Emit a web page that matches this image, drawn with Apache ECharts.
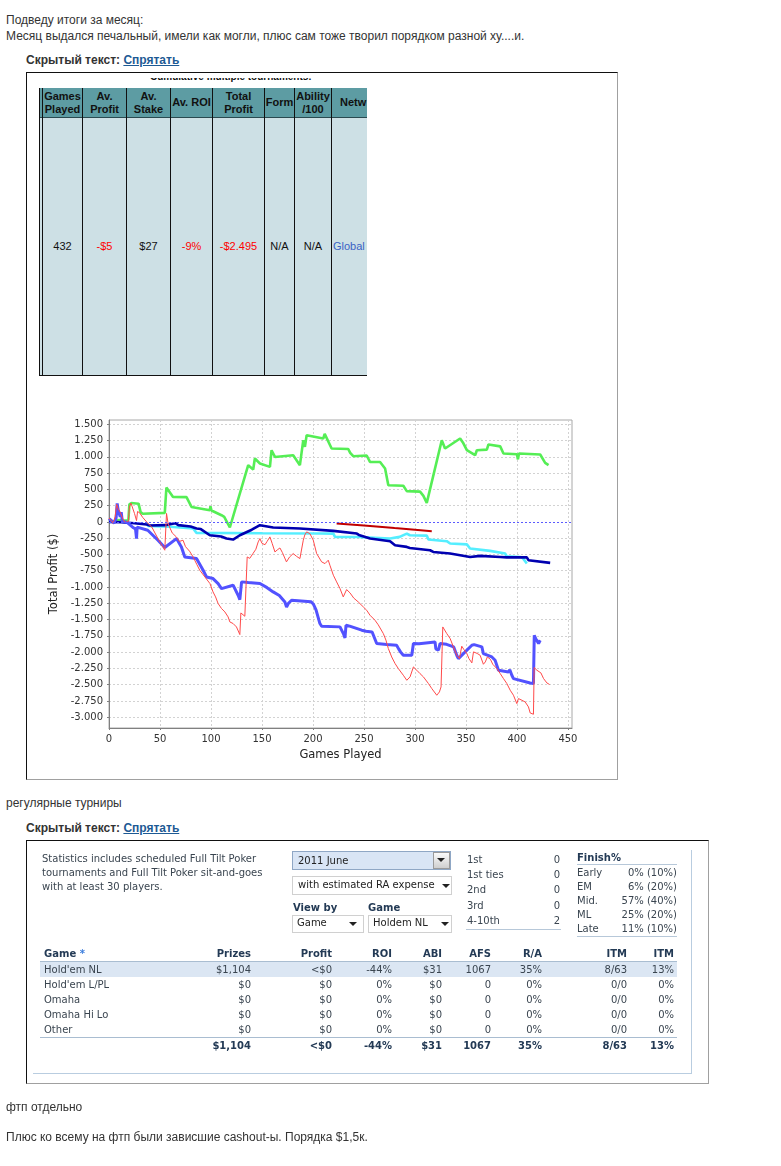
<!DOCTYPE html>
<html><head><meta charset="utf-8">
<script src="https://cdn.jsdelivr.net/npm/echarts@6.0.0/dist/echarts.min.js"></script>
<style>
html,body{margin:0;padding:0;background:#fff;}
body{width:781px;height:1166px;position:relative;overflow:hidden;}
.a{position:absolute;white-space:nowrap;}
.p{font:12px "Liberation Sans",Arial,sans-serif;color:#333;line-height:16px;}
.t{font:bold 12px "Liberation Sans",Arial,sans-serif;color:#333;line-height:16px;}
.t u{color:#1d5a94;}
.box{position:absolute;border-style:solid;border-width:1px;border-color:#111 #a0a0a0 #a0a0a0 #111;background:#fff;}
.oh{font:bold 11px "Liberation Sans",Arial,sans-serif;color:#111;line-height:13px;text-align:center;}
.ov{font:11px "Liberation Sans",Arial,sans-serif;line-height:13px;text-align:center;}
.w{font:10px "DejaVu Sans",Verdana,sans-serif;color:#3a4550;line-height:12px;}
.wb{font:bold 10px "DejaVu Sans",Verdana,sans-serif;color:#233a55;line-height:12px;}
.arr{position:absolute;width:0;height:0;border-left:4px solid transparent;border-right:4px solid transparent;border-top:4px solid #222;}
</style></head><body>
<div class="a p" style="left:6px;top:12px">Подведу итоги за месяц:</div>
<div class="a p" style="left:6px;top:28px">Месяц выдался печальный, имели как могли, плюс сам тоже творил порядком разной ху....и.</div>
<div class="a t" style="left:26px;top:52px">Скрытый текст: <u>Спрятать</u></div>
<div class="box" style="left:26px;top:72px;width:590px;height:706px"></div>

<div class="a" style="left:150px;top:78px;width:170px;height:4px;overflow:hidden">
  <div class="a oh" style="left:0;top:-8px;font-size:10px">Cumulative multiple tournaments:</div>
</div>
<div id="otab" class="a" style="left:39px;top:88px;width:328px;height:289px;overflow:hidden"></div>

<div id="chart" class="a" style="left:30px;top:395px;width:584px;height:380px"></div>

<div class="a p" style="left:6px;top:795px">регулярные турниры</div>
<div class="a t" style="left:26px;top:820px">Скрытый текст: <u>Спрятать</u></div>
<div class="box" style="left:26px;top:840px;width:681px;height:242px"></div>
<div id="wid" class="a" style="left:0;top:0;width:781px;height:1166px"></div>

<div class="a p" style="left:6px;top:1099px">фтп отдельно</div>
<div class="a p" style="left:6px;top:1129px">Плюс ко всему на фтп были зависшие cashout-ы. Порядка $1,5к.</div>

<script>
// ---------- summary table (top) ----------
const sumHeaders = [["",""],["Games","Played"],["Av.","Profit"],["Av.","Stake"],["Av. ROI"],["Total","Profit"],["Form"],["Ability","/100"],["Netw"]];
const sumValues = ["", "432", "-$5", "$27", "-9%", "-$2.495", "N/A", "N/A", "Global"];
const sumColors = ["#000", "#111", "#f00", "#111", "#f00", "#f00", "#111", "#111", "#3a63c4"];

// ---------- chart data ----------
const xTicks = [0, 50, 100, 150, 200, 250, 300, 350, 400, 450];
const yTicks = [-3000, -2750, -2500, -2250, -2000, -1750, -1500, -1250, -1000, -750, -500, -250, 0, 250, 500, 750, 1000, 1250, 1500];

const greenSeries = [[0,0],[5,10],[10,30],[14,20],[19,25],[20,270],[22,290],[29,280],[31,150],[33,125],[54.7,138],[56.3,528],[58,500],[62.8,384],[76,381],[80.9,230],[98.9,180],[99.5,241],[100.5,175],[110.3,103],[113,77],[118.5,-86],[136.5,871],[141.4,805],[143,974],[148,897],[157.8,845],[159.4,1101],[162.7,998],[180.6,1024],[187.2,871],[190.5,1255],[192.1,1152],[193.8,1332],[210.1,1281],[211.5,1352],[213,1330],[218.3,1127],[234.6,1120],[236.5,1060],[239.5,1009],[252.7,1020],[255.9,922],[265.8,920],[270.7,820],[273.9,564],[288.6,555],[292,472],[305,465],[308.3,400],[311.6,292],[326.3,1255],[329.5,1127],[344.3,1281],[347,1220],[350.9,1101],[359,1024],[360.7,1101],[370.5,1110],[372.1,1189],[383.6,1160],[386.8,1050],[400,1040],[401,960],[402,1050],[422.8,1035],[427.7,906],[431,871]];

const redSeries = [[0,60],[2,20],[4,-20],[6,80],[7.5,270],[9,200],[11,150],[12,170],[14,30],[16,-10],[19,10],[20,230],[21.5,290],[23,260],[25,130],[27,20],[28,160],[30,140],[33,70],[38,-20],[42,-80],[48,-256],[54.7,-435],[56.4,130],[58,-30],[62,-170],[66,-230],[69,-300],[72.6,-281],[75,-380],[79,-450],[82.5,-538],[86,-650],[89,-742],[94,-845],[99,-947],[102,-1075],[104.5,-1152],[107,-1254],[110.3,-1330],[113.6,-1382],[116.8,-1459],[118.5,-1536],[121.7,-1561],[125,-1613],[128.3,-1730],[129.3,-1398],[133.2,-1449],[134.2,-1469],[135.5,-538],[138,-560],[141,-490],[144,-420],[146.3,-307],[148,-256],[150,-330],[153,-350],[155,-300],[157.8,-230],[160,-330],[162.7,-461],[165,-430],[167.6,-400],[170,-470],[174,-614],[177,-540],[180.6,-486],[184,-530],[187.2,-563],[190.5,-281],[192,-200],[193.8,-153],[197,-180],[200.3,-281],[203.6,-486],[208.5,-614],[211.8,-640],[215,-588],[216.6,-665],[220,-819],[223.2,-921],[226.5,-1024],[229.7,-1152],[233,-1039],[236.3,-1090],[240,-1170],[244.4,-1229],[249.4,-1306],[252.7,-1357],[255.9,-1433],[260.8,-1510],[264,-1580],[269,-1715],[271.6,-1817],[273.9,-1945],[277.2,-2074],[280.5,-2175],[283.7,-2252],[288.6,-2355],[292,-2432],[295.2,-2380],[298.5,-2227],[301.8,-2278],[305,-2330],[308.3,-2380],[313.2,-2482],[316.5,-2559],[321.4,-2662],[324,-2611],[325.6,-2534],[327.3,-1613],[331.2,-1715],[334.5,-1791],[337.7,-1920],[341,-2048],[343.6,-2099],[345.9,-1909],[348,-1960],[350.9,-2022],[353,-2100],[355.8,-2165],[357.4,-1996],[361,-2020],[363.9,-2048],[367.1,-2186],[369,-2150],[371,-2074],[374,-2110],[376.3,-2186],[380.3,-2252],[383.6,-2329],[386.8,-2406],[390.1,-2482],[393.4,-2585],[396.6,-2662],[399.9,-2790],[401.5,-2713],[405,-2740],[408.1,-2765],[411.3,-2841],[413,-2934],[416.2,-2954],[416.9,-2236],[419.6,-2278],[423.5,-2319],[426.1,-2406],[429.4,-2473],[432,-2497]];

const violetSeries = [[0,50],[3,10],[5,-20],[7,60],[8,285],[9,180],[11,80],[12,150],[13,10],[18,-10],[24,-90],[26,-110],[27,-256],[27.6,-80],[38,-128],[48,-281],[54.7,-394],[66.2,-256],[71,-384],[74.3,-538],[76,-563],[85.8,-563],[92.3,-742],[95.6,-845],[102,-870],[107,-947],[110.3,-1024],[121.7,-972],[126.6,-1126],[128.3,-1193],[130,-921],[136.5,-932],[148,-947],[155,-1010],[161,-1075],[167,-1130],[172.5,-1229],[174.1,-1306],[176,-1250],[179,-1203],[198,-1225],[200.3,-1260],[203,-1350],[206.8,-1561],[208.5,-1602],[226.5,-1612],[229.8,-1715],[231.4,-1782],[232.4,-1587],[236,-1600],[247.8,-1663],[252,-1680],[258,-1690],[262.5,-1868],[272.3,-1884],[282,-1894],[284,-1950],[286,-2000],[288.6,-2048],[296.9,-2048],[298.5,-1868],[300,-1850],[304,-1870],[319.7,-1843],[320.5,-1950],[323,-1971],[324.6,-1868],[331,-1880],[338,-1920],[341,-2048],[342.6,-2099],[349,-2000],[355.8,-1894],[358,-1885],[365.6,-1920],[367.1,-2022],[375.4,-2074],[378.6,-2125],[381.9,-2278],[391.7,-2304],[393,-2270],[395,-2355],[396.6,-2406],[413,-2473],[416.2,-2482],[417,-1741],[419,-1810],[421.2,-1868],[422.8,-1817]];

const navySeries = [[0,0],[12,-5],[25,-20],[37,-40],[40,-55],[55,-50],[65,-20],[66.2,-10],[68,-50],[80,-70],[85.8,-102],[90,-110],[98.9,-205],[110,-225],[115.2,-256],[121.7,-271],[128.3,-205],[140,-120],[148,-51],[161,-86],[187.2,-102],[220,-138],[243,-179],[245,-200],[246,-230],[256,-256],[275.6,-296],[280.5,-358],[292,-384],[295,-400],[314.8,-435],[318,-461],[334.5,-486],[336.1,-511],[354.1,-538],[363.9,-522],[383.6,-538],[390,-545],[409.7,-545],[411.3,-588],[432.6,-629]];

const cyanSeries = [[37,-25],[38.3,-61],[60,-75],[82.5,-102],[85.8,-169],[150,-175],[207,-179],[220,-180],[221.6,-230],[244.6,-232],[275.6,-256],[277,-275],[285,-230],[292,-179],[295,-205],[311.6,-210],[313.2,-271],[331.2,-296],[334.5,-332],[350.9,-345],[354.1,-409],[373.7,-445],[388.5,-486],[390,-530],[403.2,-538],[406,-560],[409.7,-640]];

const darkRedSeries = [[223.2,-25],[250,-55],[280,-95],[300,-120],[316.5,-143]];

// ---------- widget data ----------
const statsNote = ["Statistics includes scheduled Full Tilt Poker", "tournaments and Full Tilt Poker sit-and-goes", "with at least 30 players."];
const placeLabels = ["1st", "1st ties", "2nd", "3rd", "4-10th"];
const placeValues = ["0", "0", "0", "0", "2"];
const finishLabels = ["Early", "EM", "Mid.", "ML", "Late"];
const finishValues = ["0% (10%)", "6% (20%)", "57% (40%)", "25% (20%)", "11% (10%)"];
const tableHeaders = ["Prizes", "Profit", "ROI", "ABI", "AFS", "R/A", "ITM", "ITM"];
const gameNames = ["Hold'em NL", "Hold'em L/PL", "Omaha", "Omaha Hi Lo", "Other"];
const gameRows = [
  ["$1,104", "<$0", "-44%", "$31", "1067", "35%", "8/63", "13%"],
  ["$0", "$0", "0%", "$0", "0", "0%", "0/0", "0%"],
  ["$0", "$0", "0%", "$0", "0", "0%", "0/0", "0%"],
  ["$0", "$0", "0%", "$0", "0", "0%", "0/0", "0%"],
  ["$0", "$0", "0%", "$0", "0", "0%", "0/0", "0%"]
];
const totalsRow = ["$1,104", "<$0", "-44%", "$31", "1067", "35%", "8/63", "13%"];

// ---------- build summary table ----------
(function(){
  const host = document.getElementById('otab');
  const cols = [0, 3, 43, 87, 131, 173, 225, 255, 292, 360];
  let h = '';
  h += '<div class="a" style="left:0;top:0;width:328px;height:30px;background:#5d9ca3"></div>';
  h += '<div class="a" style="left:0;top:30px;width:328px;height:257px;background:#cde0e5"></div>';
  h += '<div class="a" style="left:0;top:29px;width:328px;height:1px;background:#2a4a50"></div>';
  h += '<div class="a" style="left:0;top:287px;width:328px;height:1px;background:#111"></div>';
  for (let i = 0; i < 9; i++) {
    h += '<div class="a" style="left:' + cols[i] + 'px;top:0;width:1px;height:288px;background:#111"></div>';
  }
  for (let i = 1; i < 9; i++) {
    const l = cols[i] + 1, w = cols[i + 1] - cols[i] - 1;
    const hd = sumHeaders[i];
    const top = hd.length === 2 ? 2 : 8;
    const align = i === 8 ? 'left' : 'center';
    const pad = i === 8 ? 'padding-left:8px;' : '';
    h += '<div class="a oh" style="left:' + l + 'px;top:' + top + 'px;width:' + w + 'px;text-align:' + align + ';' + pad + '">' + hd.join('<br>') + '</div>';
    h += '<div class="a ov" style="left:' + l + 'px;top:152px;width:' + w + 'px;color:' + sumColors[i] + ';text-align:' + align + ';' + (i === 8 ? 'padding-left:1px;' : '') + '">' + sumValues[i] + '</div>';
  }
  host.innerHTML = h;
})();

// ---------- build widget ----------
(function(){
  const host = document.getElementById('wid');
  let h = '';
  const T = (cls, x, yc, s, style) => { h += '<div class="a ' + cls + '" style="left:' + x + 'px;top:' + (yc - 6) + 'px;' + (style || '') + '">' + s + '</div>'; };
  const R = (cls, xr, yc, s, style) => { h += '<div class="a ' + cls + '" style="left:' + (xr - 120) + 'px;width:120px;text-align:right;top:' + (yc - 6) + 'px;' + (style || '') + '">' + s + '</div>'; };
  const box = (x, y, w, hh, st) => { h += '<div class="a" style="left:' + x + 'px;top:' + y + 'px;width:' + w + 'px;height:' + hh + 'px;' + st + '"></div>'; };
  const arr = (x, y) => { h += '<div class="arr" style="left:' + x + 'px;top:' + y + 'px"></div>'; };
  // panel right border
  box(691, 850, 1, 224, 'background:#b9cde0');
  box(33, 1073, 659, 1, 'background:#b9cde0');
  statsNote.forEach((s, i) => T('w', 42, 859 + i * 14, s));
  // selects
  box(292, 851, 157, 17, 'background:#d9e5f5;border:1px solid #8fa7c5');
  box(433, 852, 15, 15, 'background:linear-gradient(#fafafa,#cfcfcf);border:1px solid #9a9a9a');
  arr(437, 858);
  T('w', 298, 861, '2011 June', 'color:#222');
  box(292, 876, 158, 17, 'background:#fff;border:1px solid #d0d0d0');
  T('w', 298, 885, 'with estimated RA expense', 'color:#222');
  arr(442, 884);
  T('wb', 293, 908, 'View by');
  T('wb', 368, 908, 'Game');
  box(292, 915, 70, 16, 'background:#fff;border:1px solid #d0d0d0');
  T('w', 297, 923, 'Game', 'color:#222');
  arr(349, 922);
  box(368, 915, 82, 16, 'background:#fff;border:1px solid #d0d0d0');
  T('w', 373, 923, 'Holdem NL', 'color:#222');
  arr(441, 922);
  // places
  placeLabels.forEach((s, i) => { const y = [860, 874.5, 890, 906, 921][i]; T('w', 467, y, s); R('w', 560, y, placeValues[i]); });
  box(466, 929, 95, 1, 'background:#b7c8d9');
  T('wb', 577, 858, 'Finish%');
  box(577, 864, 100, 1, 'background:#b7c8d9');
  finishLabels.forEach((s, i) => { const y = 873 + i * 14; T('w', 577, y, s); R('w', 677, y, finishValues[i]); });
  box(577, 936, 100, 1, 'background:#b7c8d9');
  // main table
  const colR = [251, 332, 392, 442, 491, 542, 627, 674];
  box(40, 962, 637, 15, 'background:#dbe6f3');
  box(40, 961, 637, 1, 'background:#a9bdd1');
  box(40, 1037, 637, 1, 'background:#a9bdd1');
  T('wb', 44, 954, 'Game <span style="color:#3b7ddd">*</span>');
  tableHeaders.forEach((s, i) => R('wb', colR[i], 954, s));
  gameNames.forEach((g, r) => {
    const y = 969.5 + r * 15;
    T('w', 44, y, g);
    gameRows[r].forEach((v, i) => R('w', colR[i], y, v));
  });
  totalsRow.forEach((v, i) => R('wb', colR[i], 1045.5, v));
  host.innerHTML = h;
})();

// ---------- chart ----------
const fmt = v => { const s = Math.abs(v).toString().replace(/\B(?=(\d{3})+(?!\d))/g, '.'); return (v < 0 ? '-' : '') + s; };
const chart = echarts.init(document.getElementById('chart'), null, {renderer: 'canvas'});
const lineS = (name, data, color, width) => ({name, type: 'line', data, showSymbol: false, symbol: 'none', lineStyle: {color, width}, itemStyle: {color}, silent: true, animation: false});
const axisFont = {fontFamily: 'DejaVu Sans', fontSize: 10, color: '#333'};
chart.setOption({
  animation: false,
  backgroundColor: '#fff',
  grid: {left: 79, top: 25, right: 42, bottom: 47, show: true, borderColor: '#a8a8a8', borderWidth: 1, backgroundColor: '#fff'},
  xAxis: {
    type: 'value', min: 0, max: 454,
    name: 'Games Played', nameLocation: 'middle', nameGap: 19,
    nameTextStyle: {fontFamily: 'DejaVu Sans', fontSize: 11.5, color: '#222'},
    axisLine: {show: true, onZero: false, lineStyle: {color: '#808080'}},
    axisTick: {show: true, length: 2, customValues: xTicks, lineStyle: {color: '#808080'}},
    axisLabel: Object.assign({customValues: xTicks, margin: 6, formatter: fmt}, axisFont),
    splitLine: {show: true, lineStyle: {color: '#d2d2d2', type: [2, 2]}}
  },
  yAxis: {
    type: 'value', min: -3165, max: 1565,
    name: 'Total Profit ($)', nameLocation: 'middle', nameGap: 46, nameRotate: 90,
    nameTextStyle: {fontFamily: 'DejaVu Sans', fontSize: 11.5, color: '#222'},
    axisLine: {show: true, onZero: false, lineStyle: {color: '#808080'}},
    axisTick: {show: true, length: 2, customValues: yTicks, lineStyle: {color: '#808080'}},
    axisLabel: Object.assign({customValues: yTicks, margin: 6, formatter: fmt}, axisFont),
    splitLine: {show: true, lineStyle: {color: '#d2d2d2', type: [2, 2]}}
  },
  series: [
    {type: 'line', data: [], silent: true, markLine: {silent: true, symbol: 'none', label: {show: false}, lineStyle: {color: '#5b5bff', type: [2, 2], width: 1}, data: [{yAxis: 0}], animation: false}},
    lineS('green', greenSeries, '#55ee55', 2.6),
    lineS('cyan', cyanSeries, '#55eeff', 2.6),
    lineS('navy', navySeries, '#0000b0', 2.6),
    lineS('darkred', darkRedSeries, '#c00000', 2),
    lineS('violet', violetSeries, '#5252ff', 3),
    lineS('red', redSeries, '#ff4a4a', 1)
  ]
});
</script>
</body></html>
